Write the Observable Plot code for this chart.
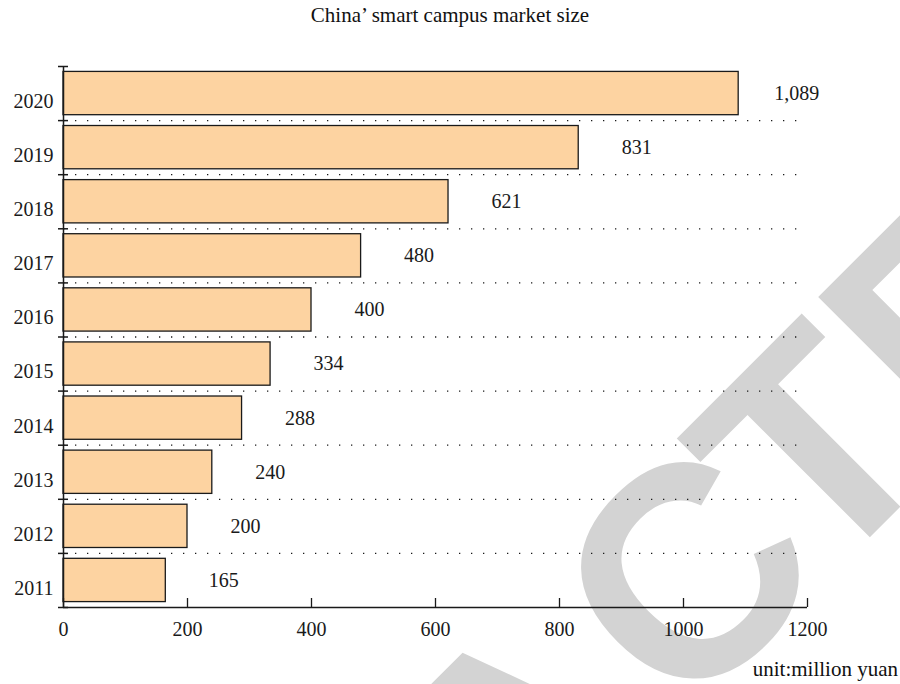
<!DOCTYPE html>
<html>
<head>
<meta charset="utf-8">
<script src="https://cdn.jsdelivr.net/npm/d3@7"></script>
<script src="https://cdn.jsdelivr.net/npm/@observablehq/plot@0.6"></script>
<style>
  html, body { margin: 0; padding: 0; background: #fff; }
  #wrap { position: relative; width: 900px; height: 684px; overflow: hidden; }
  #wm { position: absolute; left: 517px; top: 743px; transform: translate(-50%, -50%) rotate(-45deg);
        font-family: "Liberation Sans", Arial, sans-serif; font-weight: bold; font-size: 300px;
        line-height: 1; color: #d3d3d3; white-space: nowrap; pointer-events: none; }
  #chart { position: absolute; left: 0; top: 0; }
  #title { position: absolute; left: 0; width: 900px; top: 3px; text-align: center;
           font-family: "Liberation Serif", serif; font-size: 21px; color: #111; line-height: 24px; }
  #unit { position: absolute; right: 2px; top: 657px; font-family: "Liberation Serif", serif;
          font-size: 21px; color: #111; line-height: 24px; }
</style>
</head>
<body>
<div id="wrap">
  <div id="wm">RETR<span style="letter-spacing:22px">A</span><span style="letter-spacing:-22px">C</span>TED</div>
  <div id="chart"></div>
  <div id="title">China’ smart campus market size</div>
  <div id="unit">unit:million yuan</div>
</div>
<script>
const years = [2011, 2012, 2013, 2014, 2015, 2016, 2017, 2018, 2019, 2020];
const values = [165, 200, 240, 288, 334, 400, 480, 621, 831, 1089];
const xTicks = [0, 200, 400, 600, 800, 1000, 1200];

const data = years.map((y, i) => ({year: y, value: values[i]}));
const allBounds = d3.range(years.length + 1).map(i => years[0] - 0.5 + i);
const innerBounds = allBounds.slice(1, -1);
const fmt = d3.format(",");
const ink = "#1a1a1a";

const chart = Plot.plot({
  width: 900,
  height: 684,
  marginLeft: 63,
  marginRight: 93,
  marginTop: 66,
  marginBottom: 77,
  x: {domain: [0, 1200], axis: null},
  y: {domain: [years[0] - 0.5, years[years.length - 1] + 0.5], axis: null},
  style: {background: "transparent", fontFamily: "Liberation Serif, serif", fontSize: "20px", color: ink},
  marks: [
    Plot.ruleY(innerBounds, {y: d => d, stroke: ink, strokeWidth: 1.3, strokeDasharray: "1.3,10.7"}),
    Plot.rect(data, {x1: 0, x2: "value", y1: d => d.year - 0.4, y2: d => d.year + 0.4,
      fill: "#FDD3A1", stroke: ink, strokeWidth: 1.3}),
    Plot.ruleX([0], {stroke: ink, strokeWidth: 1.5}),
    Plot.ruleY([allBounds[0]], {stroke: ink, strokeWidth: 1.5}),
    Plot.tickY(allBounds, {y: d => d, insetRight: 734, dx: -5, stroke: ink, strokeWidth: 1.5}),
    Plot.tickX(xTicks, {x: d => d, insetTop: 532, stroke: ink, strokeWidth: 1.3}),
    Plot.text(years, {x: 0, y: d => d, text: d => String(d), textAnchor: "end", dx: -10, dy: 8, fill: ink}),
    Plot.text(xTicks, {x: d => d, y: allBounds[0], dy: 22, text: d => String(d), fill: ink}),
    Plot.text(data, {x: "value", y: "year", text: d => fmt(d.value), dx: 58, fill: ink})
  ]
});
document.getElementById("chart").appendChild(chart);
</script>
</body>
</html>
